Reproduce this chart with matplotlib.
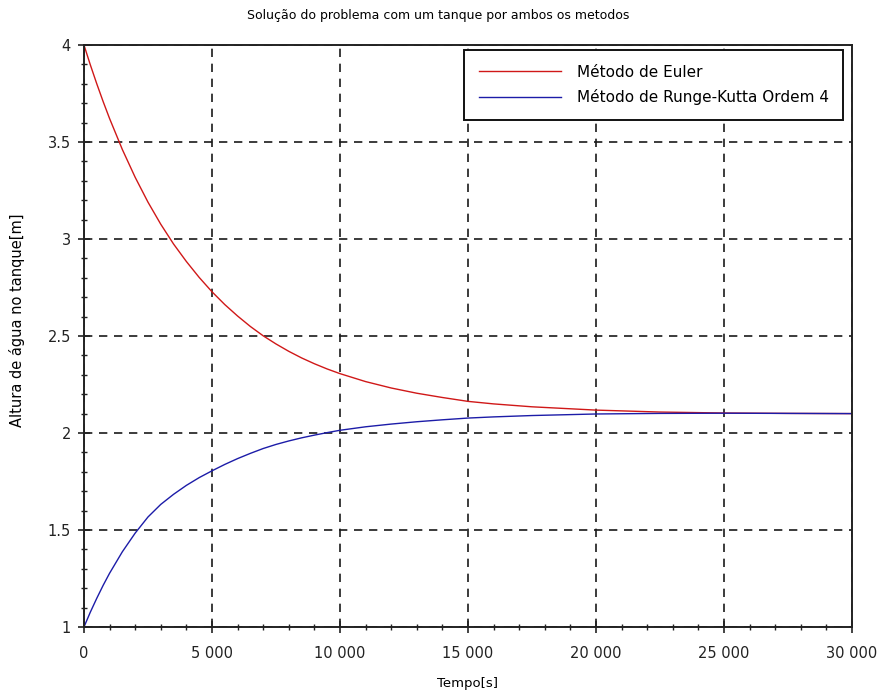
import matplotlib
matplotlib.use("Agg")
import matplotlib.pyplot as plt
from matplotlib.ticker import MultipleLocator

# values
tempo = [0, 250, 500, 750, 1000, 1500, 2000, 2500, 3000, 3500, 4000, 4500,
         5000, 5500, 6000, 6500, 7000, 7500, 8000, 8500, 9000, 9500, 10000,
         11000, 12000, 13000, 14000, 15000, 16000, 17500, 20000, 22500,
         25000, 27500, 30000]
altura_euler = [4.000, 3.897, 3.800, 3.708, 3.621, 3.461, 3.318, 3.190,
                3.076, 2.974, 2.884, 2.802, 2.728, 2.662, 2.603, 2.549,
                2.501, 2.459, 2.421, 2.387, 2.357, 2.330, 2.306, 2.265,
                2.232, 2.205, 2.183, 2.163, 2.150, 2.135, 2.118, 2.108,
                2.103, 2.101, 2.100]
altura_rk4 = [1.000, 1.077, 1.148, 1.215, 1.277, 1.388, 1.484, 1.567,
              1.632, 1.684, 1.730, 1.770, 1.805, 1.838, 1.868, 1.895,
              1.920, 1.941, 1.959, 1.975, 1.989, 2.002, 2.014, 2.032,
              2.046, 2.058, 2.068, 2.077, 2.083, 2.090, 2.098, 2.101,
              2.102, 2.101, 2.100]

x_ticks = [0, 5000, 10000, 15000, 20000, 25000, 30000]
x_labels = ["0", "5 000", "10 000", "15 000", "20 000", "25 000", "30 000"]
y_ticks = [1, 1.5, 2, 2.5, 3, 3.5, 4]
y_labels = ["1", "1.5", "2", "2.5", "3", "3.5", "4"]

plt.rcParams["font.family"] = ["DejaVu Sans"]

fig = plt.figure(figsize=(8.82, 6.9), dpi=100)
ax = fig.add_axes([0.0952, 0.0913, 0.8708, 0.8435])

ax.plot(tempo, altura_euler, color="#d01818", linewidth=1.0,
        label="Método de Euler")
ax.plot(tempo, altura_rk4, color="#1c1ca8", linewidth=1.0,
        label="Método de Runge-Kutta Ordem 4")

ax.set_xlim(0, 30000)
ax.set_ylim(1, 4)
ax.set_xticks(x_ticks)
ax.set_xticklabels(x_labels)
ax.set_yticks(y_ticks)
ax.set_yticklabels(y_labels)
ax.xaxis.set_minor_locator(MultipleLocator(1000))
ax.yaxis.set_minor_locator(MultipleLocator(0.1))

ax.grid(True, which="major", color="#1a1a1a", linestyle=(0, (5, 4)),
        linewidth=1.2)
ax.set_axisbelow(True)

ax.tick_params(which="both", direction="inout", top=False, right=False,
               colors="#222222", labelsize=10.5)
ax.tick_params(which="major", length=9, width=1.2)
ax.tick_params(which="minor", length=5, width=1.0)
ax.tick_params(axis="x", which="major", pad=9)
ax.tick_params(axis="y", which="major", pad=5)

for spine in ax.spines.values():
    spine.set_linewidth(1.4)
    spine.set_color("#222222")

fig.text(0.497, 1 - 16 / 690,
         "Solução do problema com um tanque por ambos os metodos",
         fontsize=9, ha="center", va="center")
ax.set_xlabel("Tempo[s]", fontsize=9.5, labelpad=12)
ax.set_ylabel("Altura de água no tanque[m]", fontsize=10.5)
ax.yaxis.set_label_coords(-0.077, 0.527)

leg = ax.legend(loc="upper right", bbox_to_anchor=(0.9883, 0.9914),
                borderaxespad=0, fontsize=11, handlelength=5.4,
                handletextpad=1.0, fancybox=False, framealpha=1,
                borderpad=0.95, labelspacing=0.65)
leg.get_frame().set_edgecolor("#111111")
leg.get_frame().set_linewidth(1.4)

fig.savefig("out.png", dpi=100)
